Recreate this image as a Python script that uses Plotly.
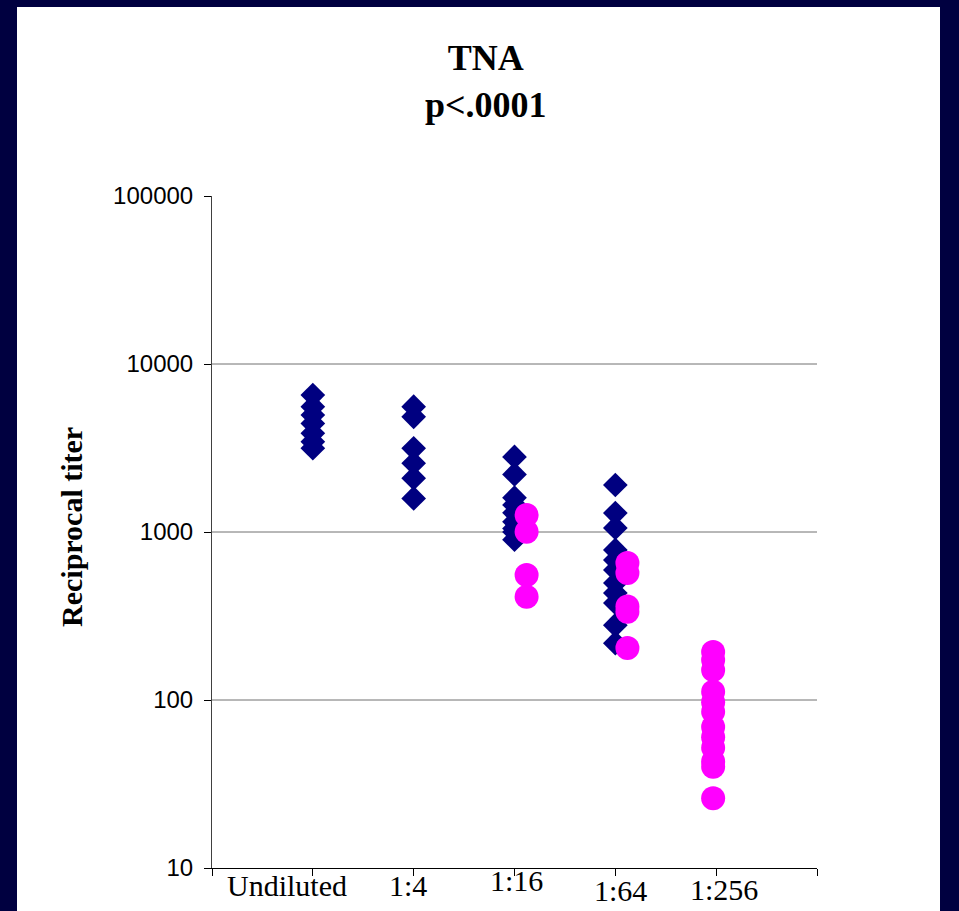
import plotly.graph_objects as go

# ---- data ----
categories = ["Undiluted", "1:4", "1:16", "1:64", "1:256"]
cat_pos = [1, 2, 3, 4, 5]

# navy diamonds (x position index, titer)
diamond_x = [1]*7 + [2]*6 + [3]*9 + [4]*11
diamond_y = [6530, 5570, 4970, 4430, 3865, 3450, 3155,
             5570, 4850, 3150, 2565, 2090, 1585,
             2800, 2200, 1600, 1450, 1300, 1150, 1000, 900, 1050,
             1905, 1297, 1057, 782, 681, 594, 497, 433, 378, 279, 218]

# magenta circles
circle_x = [3.12]*4 + [4.12]*5 + [4.97]*12
circle_y = [1262, 1005, 555, 412,
            653, 570, 360, 335, 204,
            193, 173, 151, 112, 97, 85, 69, 60, 52, 43, 40, 26]

y_tickvals = [10, 100, 1000, 10000, 100000]
y_ticktext = ["10", "100", "1000", "10000", "100000"]
grid_vals = [100, 1000, 10000]

title_lines = ["TNA", "p&lt;.0001"]
y_title = "Reciprocal titer"

# label placement (pixel centres of the hand-placed category labels)
label_px = [(287, 886), (408, 886), (516, 880), (620, 890), (724, 889)]

W, H = 959, 911
L, R, T, B = 212, 817, 196, 868

def px_x(p):
    return (p - L) / (R - L)

def px_y(p):
    return (B - p) / (B - T)

fig = go.Figure()
fig.add_trace(go.Scatter(
    x=diamond_x, y=diamond_y, mode="markers",
    marker=dict(symbol="diamond", size=19, color="#000080", line=dict(width=0)),
    showlegend=False, hoverinfo="y"))
fig.add_trace(go.Scatter(
    x=circle_x, y=circle_y, mode="markers",
    marker=dict(symbol="circle", size=24, color="#FF00FF", line=dict(width=0)),
    showlegend=False, hoverinfo="y"))

shapes = [dict(type="rect", xref="paper", yref="paper",
               x0=px_x(17), x1=px_x(940), y0=px_y(930), y1=px_y(7),
               fillcolor="white", line=dict(width=0), layer="below")]
for g in grid_vals:
    shapes.append(dict(type="line", xref="paper", yref="y", x0=0, x1=1, y0=g, y1=g,
                       line=dict(color="#707070", width=1), layer="below"))

annotations = [
    dict(text="<b>" + "</b><br><b>".join(title_lines) + "</b>", xref="paper", yref="paper",
         x=px_x(486), y=px_y(82), xanchor="center", yanchor="middle", showarrow=False,
         font=dict(family="Liberation Serif", size=36, color="black")),
    dict(text="<b>" + y_title + "</b>", xref="paper", yref="paper",
         x=px_x(71), y=px_y(527), xanchor="center", yanchor="middle", showarrow=False,
         textangle=-90, font=dict(family="Liberation Serif", size=30, color="black")),
]
for lab, (lx, ly) in zip(categories, label_px):
    annotations.append(dict(text=lab, xref="paper", yref="paper", x=px_x(lx), y=px_y(ly),
                            xanchor="center", yanchor="middle", showarrow=False,
                            font=dict(family="Liberation Serif", size=30, color="black")))

fig.update_layout(
    width=W, height=H,
    margin=dict(l=L, r=W - R, t=T, b=H - B, pad=0),
    paper_bgcolor="#000040", plot_bgcolor="white",
    shapes=shapes, annotations=annotations,
    xaxis=dict(range=[0, 6], tickvals=[0, 1, 2, 3, 4, 5, 6], showticklabels=False,
               ticks="outside", ticklen=7, tickcolor="black", showgrid=False,
               showline=True, linecolor="black", linewidth=1, zeroline=False),
    yaxis=dict(type="log", range=[1, 5], tickvals=y_tickvals, ticktext=y_ticktext,
               ticks="outside", ticklen=7, tickcolor="black", showgrid=False,
               showline=True, linecolor="#404040", linewidth=1, zeroline=False,
               ticklabelstandoff=6,
               tickfont=dict(family="Liberation Sans", size=24, color="black")),
)

fig.write_html("out.html")
